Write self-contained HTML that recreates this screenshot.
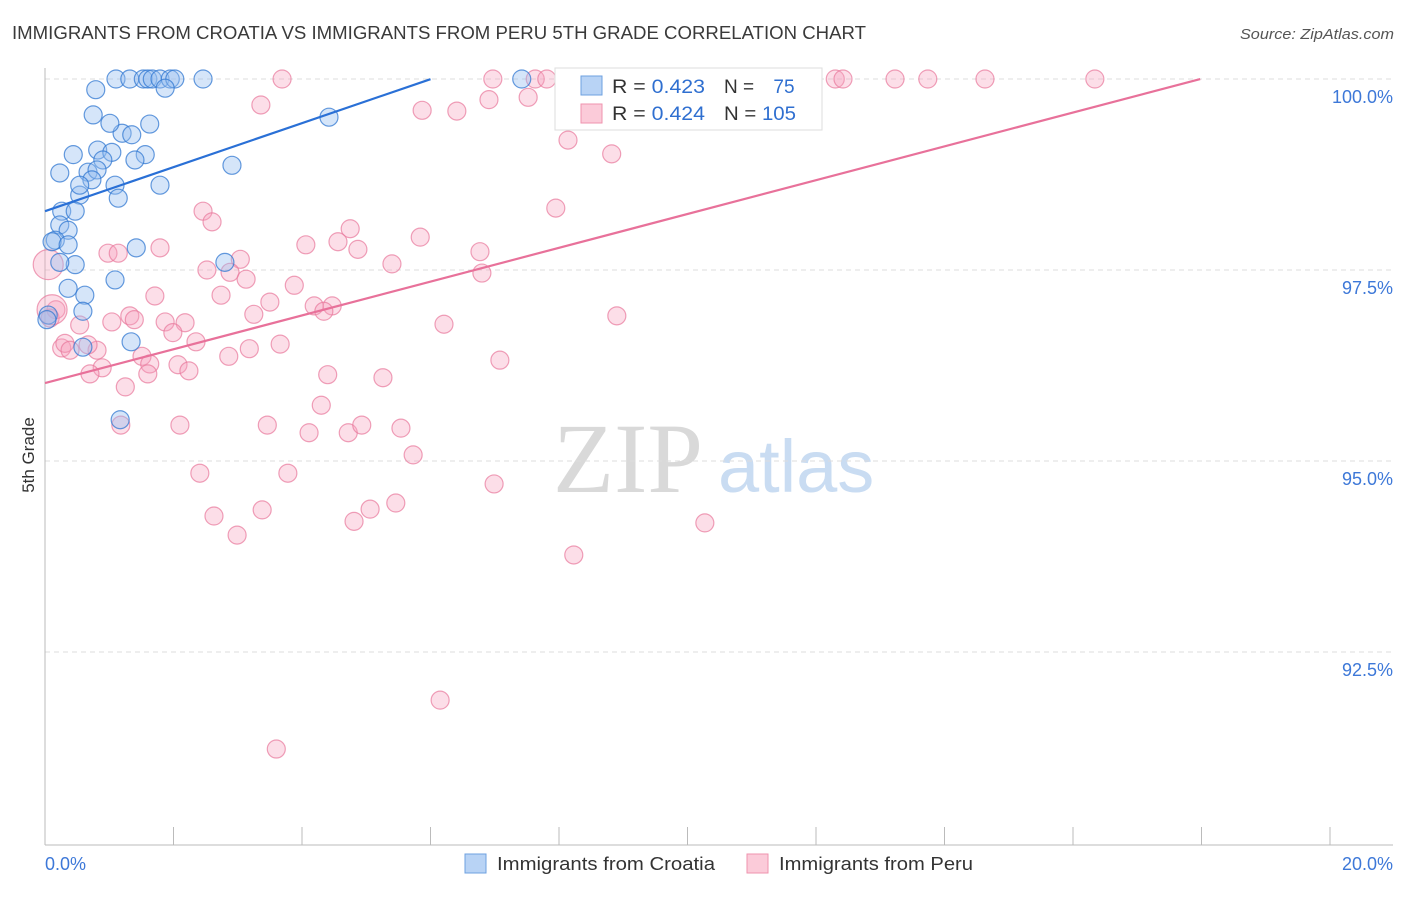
<!DOCTYPE html>
<html><head><meta charset="utf-8"><style>
body{margin:0;background:#fff;font-family:"Liberation Sans",sans-serif;}
svg text{font-family:"Liberation Sans",sans-serif;}
</style></head><body>
<svg id="chart" width="1406" height="892" xmlns="http://www.w3.org/2000/svg">
<text x="12" y="39" font-size="18" fill="#3a3a3a" textLength="854" lengthAdjust="spacingAndGlyphs">IMMIGRANTS FROM CROATIA VS IMMIGRANTS FROM PERU 5TH GRADE CORRELATION CHART</text>
<text x="1240" y="39" font-size="15" fill="#555" font-style="italic" textLength="154" lengthAdjust="spacingAndGlyphs">Source: ZipAtlas.com</text>
<text x="34" y="455" font-size="17" fill="#333" transform="rotate(-90 34 455)" text-anchor="middle">5th Grade</text>
<g>
<text x="553" y="492" font-size="100" fill="#d9d9d9" font-family="Liberation Serif" style="font-family:'Liberation Serif',serif">ZIP</text>
<text x="718" y="492" font-size="74" fill="#c9dcf2">atlas</text>
</g>
<g id="grid"></g><g id="axes"></g><g id="pink"></g><g id="blue"></g><g id="lines"></g>
<g>
<rect x="555" y="68" width="267" height="62" fill="#fff" stroke="#ddd"/>
<rect x="581" y="76" width="21" height="19" fill="#b8d3f5" stroke="#6ea0e0"/>
<rect x="581" y="104" width="21" height="19" fill="#fbcbd9" stroke="#ef93ae"/>
<text x="612" y="93" font-size="19" fill="#333" textLength="93" lengthAdjust="spacingAndGlyphs">R = <tspan fill="#2f6fd0">0.423</tspan></text>
<text x="724" y="93" font-size="19" fill="#333">N = <tspan fill="#2f6fd0" dx="14">75</tspan></text>
<text x="612" y="120" font-size="19" fill="#333" textLength="93" lengthAdjust="spacingAndGlyphs">R = <tspan fill="#2f6fd0">0.424</tspan></text>
<text x="724" y="120" font-size="19" fill="#333" textLength="72" lengthAdjust="spacingAndGlyphs">N = <tspan fill="#2f6fd0">105</tspan></text>
</g>
<g>
<rect x="465" y="854" width="21" height="19" fill="#b8d3f5" stroke="#6ea0e0"/>
<text x="497" y="870" font-size="18" fill="#333" textLength="218" lengthAdjust="spacingAndGlyphs">Immigrants from Croatia</text>
<rect x="747" y="854" width="21" height="19" fill="#fbcbd9" stroke="#ef93ae"/>
<text x="779" y="870" font-size="18" fill="#333" textLength="194" lengthAdjust="spacingAndGlyphs">Immigrants from Peru</text>
</g>
</svg>
<script>
const yTicks=[100,97.5,95,92.5];
const yTickLabels=["100.0%","97.5%","95.0%","92.5%"];
const xTicks=[0,2,4,6,8,10,12,14,16,18,20];
const xEndLabels=["0.0%","20.0%"];
const blueX=[1.105,1.32,1.53,1.60,1.67,1.79,1.95,2.02,2.46,7.42,0.79,1.87,0.75,1.20,1.01,1.35,1.63,0.44,0.82,1.04,1.56,0.90,1.40,0.23,0.67,0.81,0.73,1.09,1.79,1.14,0.54,0.26,0.47,0.23,0.36,0.16,0.11,0.36,0.47,0.23,1.09,0.36,0.62,0.59,0.05,0.03,1.34,0.59,1.17,2.80,2.91,4.42,1.42,0.54];
const blueY=[100,100,100,100,100,100,100,100,100,100,99.86,99.88,99.53,99.29,99.42,99.27,99.41,99.01,99.07,99.04,99.01,98.94,98.94,98.77,98.78,98.81,98.68,98.61,98.61,98.44,98.48,98.27,98.27,98.09,98.02,97.89,97.87,97.83,97.57,97.60,97.37,97.26,97.17,96.96,96.91,96.85,96.56,96.49,95.54,97.60,98.87,99.50,97.79,98.61];
const pinkX=[3.69,6.97,7.63,7.81,9.51,12.30,12.42,13.23,13.74,14.63,16.34,3.36,5.87,6.41,6.91,7.52,8.14,8.82,7.95,2.46,2.60,5.84,4.75,4.06,4.56,4.87,6.77,3.04,0.98,1.14,1.79,2.52,2.88,3.13,5.40,6.80,3.88,2.74,1.71,3.50,4.19,4.47,4.34,3.25,8.90,6.21,0.17,0.08,1.04,1.32,1.39,1.87,2.18,0.54,1.99,2.35,3.66,3.18,0.26,0.81,1.51,1.63,2.86,7.08,2.07,0.89,0.70,1.60,2.24,4.40,5.26,1.25,4.30,1.18,2.10,3.46,4.11,4.72,4.93,5.54,5.73,2.41,3.78,6.99,5.46,5.06,3.38,2.63,4.81,10.27,2.99,8.23,6.15,3.60,0.31,0.39,0.67,0.05,0.11];
const pinkY=[100,100,100,100,100,100,100,100,100,100,100,99.66,99.59,99.58,99.73,99.76,99.20,99.02,98.31,98.27,98.13,97.93,98.04,97.83,97.87,97.77,97.74,97.64,97.72,97.72,97.79,97.50,97.47,97.38,97.58,97.46,97.30,97.17,97.16,97.08,97.03,97.03,96.96,96.92,96.90,96.79,96.98,96.87,96.82,96.90,96.85,96.82,96.81,96.78,96.68,96.56,96.53,96.47,96.48,96.45,96.37,96.27,96.37,96.32,96.26,96.22,96.14,96.14,96.18,96.13,96.09,95.97,95.73,95.47,95.47,95.47,95.37,95.37,95.47,95.43,95.08,94.84,94.84,94.70,94.45,94.37,94.36,94.28,94.21,94.19,94.03,93.77,91.87,91.23,96.54,96.45,96.52,97.57,96.98];
const pinkBig=[97,98];
const blueTrend=[98.27,0.288];
const pinkTrend=[96.02,0.2213];
const blueTrendEnd=6.0, pinkTrendEnd=17.98;

const X0=45,X1=1330,Y100=79,PXPER=76.4;
const sx=v=>X0+(v/20)*(X1-X0);
const sy=v=>Y100+(100-v)*PXPER;
const NS="http://www.w3.org/2000/svg";
function mk(tag,attrs,parent){const e=document.createElementNS(NS,tag);for(const k in attrs)e.setAttribute(k,attrs[k]);document.getElementById(parent).appendChild(e);return e;}

yTicks.forEach((t,i)=>{
  const g=mk('line',{x1:X0,x2:1393,y1:sy(t),y2:sy(t),stroke:'#ddd','stroke-dasharray':'5,4'},'grid');
  
  
  const tx=mk('text',{x:1393,y:sy(t)+24,'font-size':18,fill:'#3d78d8','text-anchor':'end'},'grid');
  tx.textContent=yTickLabels[i];
  
  
});
const ya=mk('line',{x1:X0,x2:X0,y1:68,y2:845,stroke:'#bbb'},'axes');


const xa=mk('line',{x1:X0,x2:1393,y1:845,y2:845,stroke:'#bbb'},'axes');


xTicks.forEach(t=>{
  const l=mk('line',{x1:sx(t),x2:sx(t),y1:827,y2:845,stroke:'#bbb'},'axes');
  
  
});
const xl0=mk('text',{x:45,y:870,'font-size':18,fill:'#3d78d8'},'axes');
xl0.textContent=xEndLabels[0];


const xl1=mk('text',{x:1393,y:870,'font-size':18,fill:'#3d78d8','text-anchor':'end'},'axes');
xl1.textContent=xEndLabels[1];



pinkX.forEach((v,i)=>{
  const c=mk('circle',{cx:sx(v),cy:sy(pinkY[i]),r:pinkBig.includes(i)?15:9,fill:'rgba(246,160,190,0.35)',stroke:'rgba(232,120,155,0.7)','stroke-width':1.2},'pink');
  
  
});
blueX.forEach((v,i)=>{
  const c=mk('circle',{cx:sx(v),cy:sy(blueY[i]),r:9,fill:'rgba(150,190,240,0.4)',stroke:'rgba(50,120,210,0.75)','stroke-width':1.2},'blue');
  
  
});
const bl=mk('line',{x1:sx(0),y1:sy(blueTrend[0]),x2:sx(blueTrendEnd),y2:sy(blueTrend[0]+blueTrend[1]*blueTrendEnd),stroke:'#2a70d6','stroke-width':2.2},'lines');


const pl=mk('line',{x1:sx(0),y1:sy(pinkTrend[0]),x2:sx(pinkTrendEnd),y2:sy(pinkTrend[0]+pinkTrend[1]*pinkTrendEnd),stroke:'#e8719a','stroke-width':2.2},'lines');


</script>
</body></html>
